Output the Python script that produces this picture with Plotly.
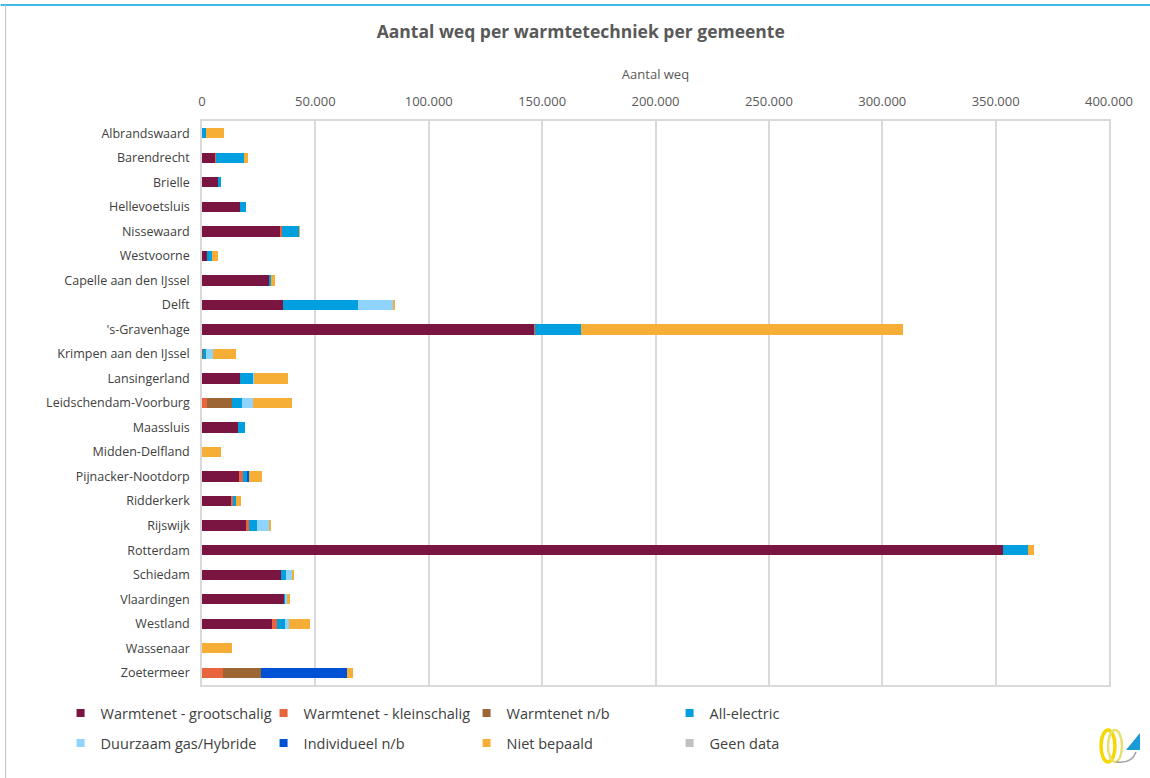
import plotly.graph_objects as go

gemeenten = ["Albrandswaard", "Barendrecht", "Brielle", "Hellevoetsluis", "Nissewaard",
             "Westvoorne", "Capelle aan den IJssel", "Delft", "'s-Gravenhage",
             "Krimpen aan den IJssel", "Lansingerland", "Leidschendam-Voorburg", "Maassluis",
             "Midden-Delfland", "Pijnacker-Nootdorp", "Ridderkerk", "Rijswijk", "Rotterdam",
             "Schiedam", "Vlaardingen", "Westland", "Wassenaar", "Zoetermeer"]

warmtenet_groot = [0, 6000, 7200, 16600, 34600, 2200, 29600, 35800, 146600, 0, 16900, 0,
                   15900, 0, 16300, 12800, 19400, 353300, 34800, 36300, 30900, 0, 0]
warmtenet_klein = [0, 300, 0, 0, 700, 0, 0, 0, 300, 300, 0, 2200,
                   0, 0, 1800, 700, 1200, 0, 0, 0, 2000, 0, 9300]
warmtenet_nb = [0, 0, 0, 0, 0, 0, 0, 0, 0, 300, 0, 11200,
                0, 0, 0, 0, 0, 0, 0, 0, 0, 0, 16800]
all_electric = [1700, 12000, 1200, 2800, 7500, 2200, 900, 32800, 20300, 1300, 5900, 4100,
                3100, 0, 1800, 1500, 3800, 11000, 2200, 400, 3700, 0, 0]
duurzaam_gas = [0, 0, 0, 0, 0, 0, 0, 15900, 0, 2900, 300, 4850,
                0, 0, 0, 0, 5300, 0, 2900, 700, 1600, 0, 0]
individueel_nb = [0, 0, 0, 0, 0, 0, 0, 0, 0, 0, 0, 0,
                  0, 0, 900, 0, 0, 0, 0, 0, 0, 0, 37900]
niet_bepaald = [7800, 1900, 0, 0, 400, 2800, 1800, 600, 141800, 10300, 14700, 17500,
                0, 8400, 5700, 2000, 600, 2800, 600, 1300, 9400, 13200, 2500]
geen_data = [0] * len(gemeenten)

series = [
    ("Warmtenet - grootschalig", warmtenet_groot, "#7a1440"),
    ("Warmtenet - kleinschalig", warmtenet_klein, "#e8643c"),
    ("Warmtenet n/b", warmtenet_nb, "#9c6634"),
    ("All-electric", all_electric, "#009fe0"),
    ("Duurzaam gas/Hybride", duurzaam_gas, "#8fd3ff"),
    ("Individueel n/b", individueel_nb, "#0052d4"),
    ("Niet bepaald", niet_bepaald, "#f7ae37"),
    ("Geen data", geen_data, "#c0c0c0"),
]

FONT = "Open Sans"
W, H = 1150, 778
L, R, T, B = 201.5, 41, 121, 93
PW, PH = W - L - R, H - T - B


def px(x):
    return (x - L) / PW


def py(y):
    return (H - B - y) / PH


fig = go.Figure()
for i, (name, vals, col) in enumerate(series):
    fig.add_trace(go.Bar(y=gemeenten, x=vals, name=name, orientation="h",
                         marker=dict(color=col, line=dict(width=0)),
                         width=0.42, showlegend=False))
    fig.add_trace(go.Scatter(x=[None], y=[None], mode="markers", name=name,
                             marker=dict(symbol="square", size=8, color=col),
                             legend="legend" if i < 4 else "legend2"))

leg_common = dict(orientation="h", xanchor="left", yanchor="middle",
                  font=dict(family=FONT, size=14.5, color="#404040"),
                  entrywidth=158, entrywidthmode="pixels", itemwidth=30,
                  bgcolor="rgba(0,0,0,0)", traceorder="normal")

fig.update_layout(
    width=W, height=H,
    margin=dict(l=L, r=R, t=T, b=B),
    paper_bgcolor="white", plot_bgcolor="white",
    barmode="stack", bargap=0.58,
    separators=",.",
    font=dict(family=FONT, color="#595959"),
    title=dict(text="<b>Aantal weq per warmtetechniek per gemeente</b>",
               x=0.505, xanchor="center", y=1 - 32 / H, yanchor="middle",
               font=dict(family=FONT, size=17.5, color="#595959")),
    xaxis=dict(side="top", range=[0, 400000], dtick=50000, tickformat=",d",
               showgrid=True, gridcolor="#d9d9d9", gridwidth=1.5,
               showline=True, linecolor="#d9d9d9", linewidth=1.5, mirror=True,
               zeroline=False, ticks="", ticklabelstandoff=8,
               tickfont=dict(family=FONT, size=13, color="#595959"),
               title=dict(text="Aantal weq", standoff=9,
                          font=dict(family=FONT, size=13, color="#595959"))),
    yaxis=dict(categoryorder="array", categoryarray=gemeenten, autorange="reversed",
               showgrid=False, showline=True, linecolor="#d9d9d9", linewidth=1.5,
               mirror=True, ticks="", ticklabelstandoff=8,
               tickfont=dict(family=FONT, size=12.5, color="#404040")),
    legend=dict(x=px(60), y=py(713), **leg_common),
    legend2=dict(x=px(60), y=py(743), **leg_common),
)

# outer frame lines
fig.add_shape(type="line", xref="paper", yref="paper",
              x0=px(0), x1=px(W), y0=py(5), y1=py(5),
              line=dict(color="#00a0e0", width=1.5))
fig.add_shape(type="line", xref="paper", yref="paper",
              x0=px(5), x1=px(5), y0=py(5), y1=py(H),
              line=dict(color="#bfbfbf", width=1))

# small logo (bottom right)
fig.add_shape(type="circle", xref="paper", yref="paper",
              x0=px(1101), x1=px(1115), y0=py(762), y1=py(730),
              line=dict(color="#f5d800", width=3.5))
fig.add_shape(type="circle", xref="paper", yref="paper",
              x0=px(1108), x1=px(1122), y0=py(762), y1=py(730),
              line=dict(color="#e8e070", width=2.5))
fig.add_shape(type="path", xref="paper", yref="paper",
              path=f"M {px(1126)},{py(750)} L {px(1140)},{py(750)} L {px(1140)},{py(733)} Z",
              fillcolor="#1a9ad6", line=dict(width=0))
fig.add_shape(type="path", xref="paper", yref="paper",
              path=f"M {px(1116)},{py(762)} Q {px(1132)},{py(764)} {px(1136)},{py(752)}",
              line=dict(color="#a0a0a0", width=1.5))

fig.write_html("out.html")
